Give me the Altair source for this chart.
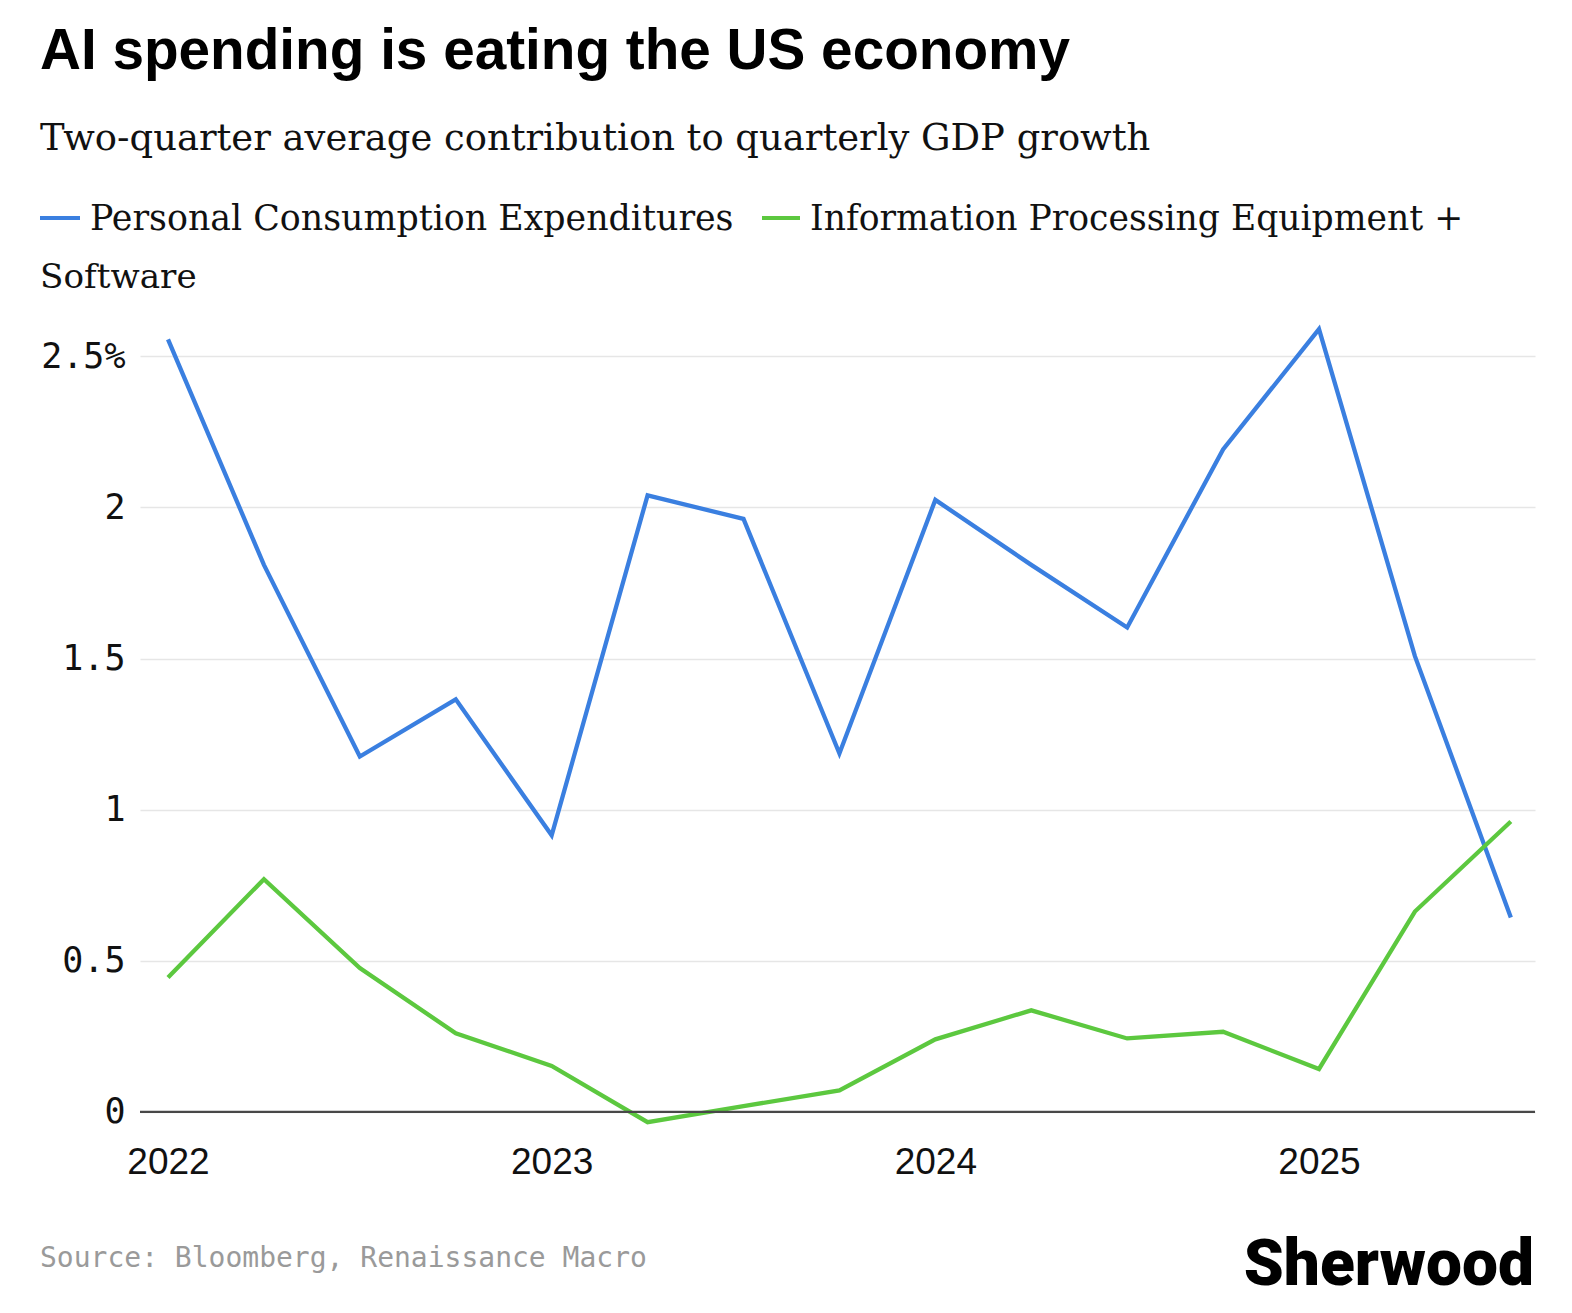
import altair as alt
import pandas as pd

# ---------------- data ----------------
quarters = ["2022Q1", "2022Q2", "2022Q3", "2022Q4",
            "2023Q1", "2023Q2", "2023Q3", "2023Q4",
            "2024Q1", "2024Q2", "2024Q3", "2024Q4",
            "2025Q1", "2025Q2", "2025Q3"]
pce = [2.556, 1.81, 1.176, 1.365, 0.915, 2.04, 1.962, 1.186,
       2.025, 1.81, 1.603, 2.192, 2.59, 1.508, 0.643]
ipes = [0.445, 0.770, 0.476, 0.260, 0.152, -0.034, 0.019, 0.071,
        0.240, 0.336, 0.243, 0.265, 0.142, 0.663, 0.961]

series_names = ["Personal Consumption Expenditures",
                "Information Processing Equipment + Software"]
series_colors = ["#3a7fe0", "#5cc83f"]
x_ticks = [2022, 2023, 2024, 2025]
y_ticks = [0, 0.5, 1, 1.5, 2, 2.5]

title_text = "AI spending is eating the US economy"
subtitle_text = "Two-quarter average contribution to quarterly GDP growth"
legend_line1_a = "Personal Consumption Expenditures"
legend_line1_b = "Information Processing Equipment +"
legend_line2 = "Software"
source_text = "Source: Bloomberg, Renaissance Macro"
brand_text = "Sherwood"


def qtime(q):
    return int(q[:4]) + (int(q[-1]) - 1) / 4.0


rows = []
for name, vals in zip(series_names, [pce, ipes]):
    for q, v in zip(quarters, vals):
        rows.append({"t": qtime(q), "value": v, "series": name})
df = pd.DataFrame(rows)

W, H = 1395, 816

x_enc = alt.X(
    "t:Q",
    scale=alt.Scale(domain=[2021.927, 2025.563], nice=False, zero=False),
    axis=alt.Axis(values=x_ticks, format="d", title=None, domain=False,
                  ticks=False, grid=False, labelFont="Liberation Sans",
                  labelFontSize=37, labelColor="#111111", labelPadding=17),
)
y_scale = alt.Scale(domain=[-0.05, 2.65], nice=False, zero=False)
y_axis = alt.Axis(values=y_ticks, title=None, domain=False, ticks=False,
                  grid=True, gridColor="#e6e6e6", gridWidth=1.5,
                  labelFont="DejaVu Sans Mono", labelFontSize=35,
                  labelColor="#111111", labelPadding=15,
                  labelExpr="datum.value == 2.5 ? '2.5%' : '' + datum.value")

lines = alt.Chart(df).mark_line(strokeWidth=4.3, strokeCap="butt").encode(
    x=x_enc,
    y=alt.Y("value:Q", scale=y_scale, axis=y_axis),
    color=alt.Color("series:N",
                    scale=alt.Scale(domain=series_names, range=series_colors),
                    legend=None),
    detail="series:N",
)

zero_rule = alt.Chart(pd.DataFrame({"value": [0]})).mark_rule(
    color="#484848", strokeWidth=2.2
).encode(y=alt.Y("value:Q", scale=y_scale, axis=y_axis))


def txt(s, x, y, font, size, weight="normal", color="#111111", align="left"):
    return alt.Chart(pd.DataFrame({"s": [s]})).mark_text(
        font=font, fontSize=size, fontWeight=weight, color=color,
        align=align, baseline="alphabetic"
    ).encode(x=alt.value(x), y=alt.value(y), text="s:N")


def swatch(x1, x2, y, color):
    return alt.Chart(pd.DataFrame({"s": [0]})).mark_rule(
        color=color, strokeWidth=4
    ).encode(x=alt.value(x1), x2=alt.value(x2), y=alt.value(y))


layers = [
    lines,
    zero_rule,
    txt(title_text, -100, -242, "Liberation Sans", 56.7, "bold", "#000000"),
    txt(subtitle_text, -100, -161, "DejaVu Serif", 36.9),
    swatch(-100, -60, -93, series_colors[0]),
    txt(legend_line1_a, -50, -81, "DejaVu Serif", 34.8),
    swatch(622, 660, -93, series_colors[1]),
    txt(legend_line1_b, 670, -81, "DejaVu Serif", 34.6),
    txt(legend_line2, -100, -23, "DejaVu Serif", 34.2),
    txt(source_text, -100, 956, "DejaVu Sans Mono", 28, "normal", "#9a9a9a"),
    txt(brand_text, 1394, 974, "Roboto", 64, 900, "#000000", "right"),
]

chart = alt.layer(*layers).properties(
    width=W, height=H,
    autosize=alt.AutoSizeParams(type="none"),
    padding={"left": 132, "top": 303, "right": 10, "bottom": 176},
    background="#ffffff",
).configure_view(stroke=None)

chart.save("out.html", embed_options={"renderer": "svg", "actions": False})
